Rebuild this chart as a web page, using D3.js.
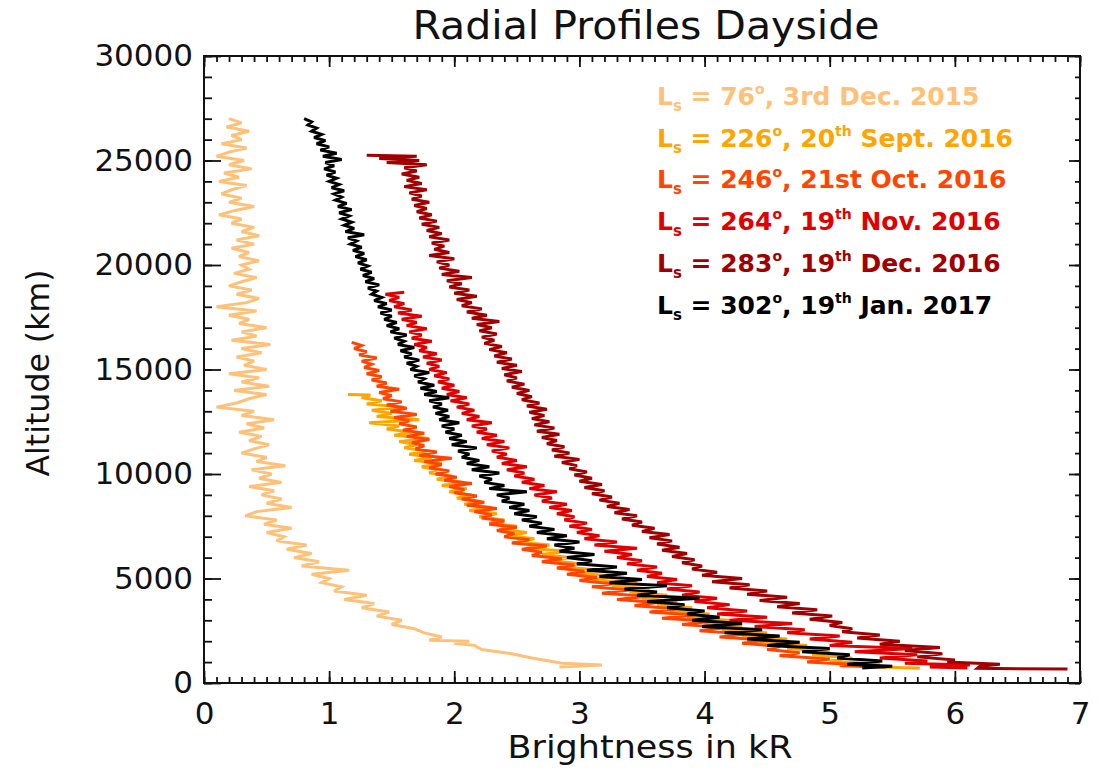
<!DOCTYPE html>
<html><head><meta charset="utf-8">
<script src="https://cdn.jsdelivr.net/npm/d3@7"></script>
<style>body{margin:0;background:#fff}svg{display:block}</style>
</head><body>
<svg id="chart" width="1099" height="772"></svg>
<script>
// ---------- data ----------
const xTicks = [0,1,2,3,4,5,6,7];
const yTicks = [0,5000,10000,15000,20000,25000,30000];
const lsValues = [76,226,246,264,283,302];
const legendDay = ["3rd","20","21st","19","19","19"];
const legendSup = ["","th","","th","th","th"];
const legendRest = ["Dec. 2015","Sept. 2016","Oct. 2016","Nov. 2016","Dec. 2016","Jan. 2017"];
const seriesColors = ["#FFC078","#FFA500","#FF4500","#E00000","#A00000","#000000"];

// [altitude km, brightness kR]
const ls76 = [[27000,0.2],[26800,0.3],[26600,0.18],[26400,0.36],[26200,0.22],[26000,0.3],[25800,0.14],[25600,0.34],[25400,0.2],[25200,0.1],[25000,0.32],[24800,0.2],[24600,0.38],[24400,0.16],[24200,0.28],[24000,0.12],[23800,0.34],[23600,0.22],[23400,0.14],[23200,0.3],[23000,0.2],[22800,0.4],[22600,0.24],[22400,0.12],[22200,0.3],[22000,0.22],[21800,0.4],[21600,0.3],[21400,0.44],[21200,0.26],[21000,0.4],[20800,0.22],[20600,0.36],[20400,0.28],[20200,0.44],[20000,0.3],[19800,0.36],[19600,0.24],[19400,0.42],[19200,0.3],[19000,0.2],[18800,0.38],[18600,0.26],[18400,0.44],[18200,0.34],[18000,0.1],[17800,0.42],[17600,0.2],[17400,0.36],[17200,0.28],[17000,0.5],[16800,0.3],[16600,0.42],[16400,0.22],[16200,0.53],[16000,0.3],[15800,0.46],[15600,0.26],[15400,0.4],[15200,0.32],[15000,0.5],[14800,0.2],[14600,0.44],[14400,0.3],[14200,0.52],[14000,0.24],[13800,0.5],[13600,0.36],[13400,0.26],[13200,0.1],[13000,0.4],[12800,0.3],[12600,0.56],[12400,0.34],[12200,0.48],[12000,0.28],[11800,0.46],[11600,0.36],[11400,0.52],[11200,0.4],[11000,0.3],[10800,0.5],[10600,0.42],[10400,0.65],[10200,0.38],[10000,0.54],[9800,0.44],[9600,0.62],[9400,0.36],[9200,0.56],[9000,0.46],[8800,0.62],[8600,0.5],[8400,0.7],[8200,0.42],[8000,0.33],[7800,0.58],[7600,0.48],[7400,0.7],[7200,0.5],[7000,0.64],[6800,0.58],[6600,0.82],[6400,0.66],[6200,0.86],[6000,0.72],[5800,0.92],[5600,0.78],[5400,1.16],[5200,0.86],[5000,1.0],[4800,0.94],[4600,1.1],[4400,1.04],[4200,1.3],[4000,1.12],[3800,1.36],[3600,1.26],[3400,1.48],[3200,1.38],[3000,1.58],[2800,1.5],[2600,1.68],[2400,1.76],[2200,1.9],[2050,1.8],[2000,2.12],[1900,2.0],[1800,2.16],[1600,2.22],[1400,2.46],[1200,2.62],[1050,2.76],[950,2.86],[860,3.18],[760,2.84]];

const ls226 = [[13800,1.15],[13780,1.33],[13650,1.26],[13500,1.42],[13350,1.3],[13200,1.6],[13050,1.34],[12900,1.5],[12750,1.38],[12600,1.72],[12450,1.32],[12300,1.56],[12150,1.46],[12000,1.66],[11850,1.52],[11700,1.8],[11550,1.56],[11400,1.7],[11250,1.6],[11100,1.78],[10950,1.64],[10800,1.82],[10650,1.68],[10500,1.9],[10350,1.74],[10200,1.86],[10050,1.8],[9900,1.98],[9750,1.86],[9600,2.06],[9450,1.9],[9300,2.1],[9150,1.96],[9000,2.14],[8850,2.02],[8700,2.2],[8550,2.08],[8400,2.3],[8250,2.12],[8100,2.34],[7950,2.2],[7800,2.4],[7650,2.28],[7500,2.5],[7350,2.36],[7200,2.58],[7050,2.44],[6900,2.64],[6750,2.5],[6600,2.76],[6450,2.58],[6300,2.9],[6150,2.7],[6000,2.92],[5850,2.8],[5700,3.02],[5550,2.9],[5400,3.16],[5250,3.0],[5100,3.3],[4950,3.1],[4800,3.46],[4650,3.26],[4500,3.56],[4350,3.4],[4200,3.7],[4050,3.5],[3900,3.78],[3750,3.62],[3600,3.9],[3450,3.72],[3300,4.04],[3150,3.86],[3000,4.2],[2850,4.0],[2700,4.3],[2550,4.14],[2400,4.5],[2250,4.3],[2100,4.66],[1950,4.44],[1800,4.82],[1650,4.66],[1500,5.0],[1350,4.86],[1200,5.18],[1050,5.0],[900,5.4],[800,5.24],[700,5.72]];

const ls246 = [[16300,1.18],[16150,1.26],[16000,1.2],[15850,1.3],[15700,1.24],[15550,1.38],[15400,1.26],[15250,1.34],[15100,1.28],[14950,1.4],[14800,1.3],[14650,1.42],[14500,1.34],[14350,1.46],[14200,1.38],[14050,1.56],[13900,1.4],[13750,1.5],[13600,1.43],[13450,1.58],[13300,1.46],[13150,1.62],[13000,1.49],[12850,1.7],[12700,1.52],[12550,1.64],[12400,1.56],[12250,1.7],[12100,1.59],[11950,1.76],[11800,1.62],[11650,1.8],[11500,1.66],[11350,1.76],[11200,1.69],[11050,1.86],[10900,1.72],[10750,1.98],[10600,1.76],[10450,1.9],[10300,1.8],[10150,1.96],[10000,1.85],[9850,2.02],[9700,1.92],[9550,2.14],[9400,1.96],[9250,2.08],[9100,2.0],[8950,2.18],[8800,2.06],[8650,2.24],[8500,2.1],[8350,2.34],[8200,2.16],[8050,2.3],[7900,2.22],[7750,2.4],[7600,2.28],[7450,2.5],[7300,2.34],[7150,2.48],[7000,2.4],[6850,2.6],[6700,2.46],[6550,2.74],[6400,2.54],[6250,2.7],[6100,2.62],[5950,2.86],[5800,2.7],[5650,2.96],[5500,2.82],[5350,3.04],[5200,2.9],[5050,3.14],[4900,3.0],[4750,3.26],[4600,3.1],[4450,3.4],[4300,3.18],[4150,3.54],[4000,3.3],[3850,3.62],[3700,3.44],[3550,3.78],[3400,3.56],[3250,3.92],[3100,3.66],[2950,4.06],[2800,3.82],[2650,4.18],[2500,3.96],[2350,4.34],[2200,4.12],[2050,4.5],[1900,4.3],[1750,4.6],[1600,4.5],[1450,4.76],[1300,4.6],[1150,5.0],[1000,4.82],[900,5.16],[820,5.08],[760,5.45]];

const ls264 = [[18700,1.6],[18600,1.45],[18450,1.56],[18300,1.48],[18150,1.6],[18000,1.52],[17850,1.66],[17700,1.55],[17550,1.74],[17400,1.58],[17250,1.7],[17100,1.62],[16950,1.78],[16800,1.64],[16650,1.74],[16500,1.66],[16350,1.82],[16200,1.68],[16050,1.78],[15900,1.72],[15750,1.86],[15600,1.75],[15450,1.9],[15300,1.78],[15150,1.88],[15000,1.8],[14850,1.94],[14700,1.84],[14550,1.96],[14400,1.87],[14250,2.0],[14100,1.9],[13950,2.04],[13800,1.94],[13650,2.1],[13500,1.97],[13350,2.12],[13200,2.02],[13050,2.16],[12900,2.06],[12750,2.2],[12600,2.1],[12450,2.3],[12300,2.14],[12150,2.26],[12000,2.18],[11850,2.34],[11700,2.22],[11550,2.4],[11400,2.26],[11250,2.44],[11100,2.3],[10950,2.42],[10800,2.34],[10650,2.5],[10500,2.38],[10350,2.58],[10200,2.42],[10050,2.56],[9900,2.48],[9750,2.64],[9600,2.54],[9450,2.72],[9300,2.6],[9150,2.82],[9000,2.64],[8850,2.78],[8700,2.7],[8550,2.9],[8400,2.76],[8250,2.94],[8100,2.82],[7950,2.96],[7800,2.88],[7650,3.06],[7500,2.92],[7350,3.1],[7200,2.98],[7050,3.16],[6900,3.04],[6750,3.3],[6600,3.12],[6450,3.46],[6300,3.2],[6150,3.42],[6000,3.3],[5850,3.5],[5700,3.38],[5550,3.62],[5400,3.46],[5250,3.66],[5100,3.54],[4950,3.78],[4800,3.62],[4650,3.9],[4500,3.7],[4350,3.96],[4200,3.82],[4050,4.1],[3900,3.92],[3750,4.2],[3600,4.02],[3450,4.34],[3300,4.1],[3150,4.5],[3000,4.2],[2850,4.7],[2700,4.4],[2550,4.8],[2400,4.66],[2250,5.08],[2100,4.84],[1950,5.18],[1800,5.0],[1650,5.66],[1500,5.2],[1350,5.7],[1200,5.4],[1050,5.78],[950,5.6],[860,6.12],[760,5.8],[720,6.1]];

const ls283 = [[25250,1.3],[25200,1.7],[25100,1.4],[25000,1.72],[24900,1.46],[24800,1.78],[24650,1.6],[24500,1.7],[24350,1.58],[24200,1.72],[24050,1.62],[23900,1.74],[23750,1.6],[23600,1.78],[23450,1.64],[23300,1.74],[23150,1.66],[23000,1.8],[22850,1.68],[22700,1.78],[22550,1.7],[22400,1.82],[22250,1.72],[22100,1.86],[21950,1.74],[21800,1.88],[21650,1.78],[21500,1.9],[21350,1.8],[21200,1.96],[21050,1.82],[20900,1.92],[20750,1.84],[20600,1.96],[20450,1.8],[20300,2.0],[20150,1.86],[20000,1.96],[19850,1.88],[19700,2.04],[19550,1.9],[19400,2.14],[19250,1.94],[19100,2.06],[18950,1.96],[18800,2.12],[18650,2.0],[18500,2.18],[18350,2.02],[18200,2.14],[18050,2.06],[17900,2.22],[17750,2.1],[17600,2.26],[17450,2.14],[17300,2.36],[17150,2.18],[17000,2.3],[16850,2.2],[16700,2.34],[16550,2.22],[16400,2.32],[16250,2.24],[16100,2.38],[15950,2.28],[15800,2.42],[15650,2.32],[15500,2.46],[15350,2.34],[15200,2.5],[15050,2.38],[14900,2.54],[14750,2.4],[14600,2.5],[14450,2.42],[14300,2.56],[14150,2.46],[14000,2.6],[13850,2.5],[13700,2.62],[13550,2.54],[13400,2.68],[13250,2.58],[13100,2.74],[12950,2.6],[12800,2.72],[12650,2.62],[12500,2.76],[12350,2.64],[12200,2.8],[12050,2.66],[11900,2.84],[11750,2.7],[11600,2.82],[11450,2.74],[11300,2.88],[11150,2.78],[11000,2.92],[10850,2.8],[10700,3.0],[10550,2.86],[10400,2.98],[10250,2.92],[10100,3.06],[9950,2.96],[9800,3.1],[9650,3.0],[9500,3.18],[9350,3.04],[9200,3.2],[9050,3.1],[8900,3.26],[8750,3.16],[8600,3.32],[8450,3.22],[8300,3.4],[8150,3.28],[8000,3.46],[7850,3.34],[7700,3.5],[7550,3.42],[7400,3.6],[7250,3.5],[7100,3.72],[6950,3.56],[6800,3.74],[6650,3.62],[6500,3.8],[6350,3.66],[6200,3.86],[6050,3.74],[5900,3.92],[5750,3.82],[5600,3.98],[5450,3.9],[5300,4.1],[5150,3.98],[5000,4.3],[4850,4.06],[4700,4.36],[4550,4.2],[4400,4.5],[4250,4.34],[4100,4.66],[3950,4.44],[3800,4.76],[3650,4.58],[3500,4.9],[3350,4.7],[3200,5.02],[3050,4.84],[2900,5.1],[2750,5.0],[2600,5.18],[2450,5.1],[2300,5.4],[2150,5.22],[2000,5.56],[1850,5.4],[1700,5.88],[1550,5.6],[1400,5.9],[1250,5.7],[1100,6.0],[1000,5.94],[900,6.36],[800,6.2],[700,6.18],[670,6.9]];

const ls302 = [[27000,0.80],[26850,0.86],[26700,0.83],[26550,0.9],[26400,0.86],[26250,0.94],[26100,0.88],[25950,0.97],[25800,0.9],[25650,1.0],[25500,0.93],[25350,1.06],[25200,0.95],[25050,1.1],[24900,0.97],[24750,1.04],[24600,0.96],[24450,1.05],[24300,0.98],[24150,1.06],[24000,1.0],[23850,1.08],[23700,1.02],[23550,1.12],[23400,1.04],[23250,1.1],[23100,1.05],[22950,1.14],[22800,1.07],[22650,1.18],[22500,1.08],[22350,1.16],[22200,1.1],[22050,1.18],[21900,1.12],[21750,1.2],[21600,1.13],[21450,1.28],[21300,1.15],[21150,1.22],[21000,1.17],[20850,1.26],[20700,1.19],[20550,1.28],[20400,1.21],[20250,1.3],[20100,1.23],[19950,1.31],[19800,1.25],[19650,1.34],[19500,1.27],[19350,1.36],[19200,1.29],[19050,1.4],[18900,1.31],[18750,1.38],[18600,1.34],[18450,1.42],[18300,1.36],[18150,1.46],[18000,1.39],[17850,1.5],[17700,1.41],[17550,1.5],[17400,1.44],[17250,1.54],[17100,1.46],[16950,1.56],[16800,1.49],[16650,1.62],[16500,1.52],[16350,1.6],[16200,1.55],[16050,1.68],[15900,1.57],[15750,1.66],[15600,1.6],[15450,1.72],[15300,1.62],[15150,1.7],[15000,1.65],[14850,1.8],[14700,1.68],[14550,1.76],[14400,1.71],[14250,1.84],[14100,1.73],[13950,1.86],[13800,1.76],[13650,1.96],[13500,1.8],[13350,1.9],[13200,1.83],[13050,1.95],[12900,1.85],[12750,1.96],[12600,1.88],[12450,2.04],[12300,1.9],[12150,2.0],[12000,1.93],[11850,2.06],[11700,1.96],[11550,2.1],[11400,1.98],[11250,2.18],[11100,2.03],[10950,2.12],[10800,2.06],[10650,2.2],[10500,2.1],[10350,2.28],[10200,2.14],[10050,2.36],[9900,2.2],[9750,2.3],[9600,2.24],[9450,2.4],[9300,2.28],[9150,2.58],[9000,2.34],[8850,2.44],[8700,2.38],[8550,2.56],[8400,2.44],[8250,2.6],[8100,2.48],[7950,2.66],[7800,2.54],[7650,2.7],[7500,2.6],[7350,2.8],[7200,2.66],[7050,2.9],[6900,2.74],[6750,3.0],[6600,2.8],[6450,2.96],[6300,2.84],[6150,3.12],[6000,2.9],[5850,3.1],[5700,2.98],[5550,3.3],[5400,3.06],[5250,3.38],[5100,3.16],[4950,3.5],[4800,3.24],[4650,3.7],[4500,3.36],[4350,3.62],[4200,3.46],[4050,3.96],[3900,3.54],[3750,3.84],[3600,3.7],[3450,4.0],[3300,3.86],[3150,4.12],[3000,3.9],[2850,4.3],[2700,3.98],[2550,4.46],[2400,4.16],[2250,4.6],[2100,4.34],[1950,4.76],[1800,4.5],[1650,5.0],[1500,4.78],[1350,5.16],[1200,5.06],[1050,5.42],[900,5.14],[800,5.5],[720,5.26]];

const allSeries = [ls76, ls226, ls246, ls264, ls283, ls302];

// ---------- layout ----------
const W = 1099, H = 772;
const plot = {left: 204, right: 1080, top: 56, bottom: 683};
const font = "'DejaVu Sans', sans-serif";
const svg = d3.select("#chart");
svg.append("rect").attr("width", W).attr("height", H).attr("fill", "#fff");

const x = d3.scaleLinear().domain([0, 7]).range([plot.left, plot.right]);
const y = d3.scaleLinear().domain([0, 30000]).range([plot.bottom, plot.top]);

svg.append("clipPath").attr("id", "clip").append("rect")
  .attr("x", plot.left).attr("y", plot.top)
  .attr("width", plot.right - plot.left).attr("height", plot.bottom - plot.top);

const line = d3.line().x(d => x(d[1])).y(d => y(d[0]));
const gLines = svg.append("g").attr("clip-path", "url(#clip)");
allSeries.forEach((s, i) => {
  gLines.append("path").datum(s)
    .attr("d", line)
    .attr("fill", "none")
    .attr("stroke", seriesColors[i])
    .attr("stroke-width", 3)
    .attr("stroke-linejoin", "miter")
    .attr("stroke-miterlimit", 3);
});

// ---------- axes ----------
const xMinor = d3.range(0, 7.001, 0.1).map(v => +v.toFixed(1));
const yMinor = d3.range(0, 30001, 1000);
function styleAxis(g) {
  g.select(".domain").remove();
  g.selectAll("line").attr("stroke", "#111").attr("stroke-width", 1.8);
  g.selectAll("text").attr("font-family", font).attr("font-size", 31).attr("fill", "#111");
}
// bottom
svg.append("g").attr("transform", `translate(0,${plot.bottom})`)
  .call(d3.axisBottom(x).tickValues(xMinor).tickSize(-6).tickFormat("")).call(styleAxis);
svg.append("g").attr("transform", `translate(0,${plot.bottom})`)
  .call(d3.axisBottom(x).tickValues(xTicks).tickSize(-12).tickPadding(19).tickFormat(d3.format("d"))).call(styleAxis);
// top
svg.append("g").attr("transform", `translate(0,${plot.top})`)
  .call(d3.axisTop(x).tickValues(xMinor).tickSize(-6).tickFormat("")).call(styleAxis);
svg.append("g").attr("transform", `translate(0,${plot.top})`)
  .call(d3.axisTop(x).tickValues(xTicks).tickSize(-11).tickFormat("")).call(styleAxis);
// left
svg.append("g").attr("transform", `translate(${plot.left},0)`)
  .call(d3.axisLeft(y).tickValues(yMinor).tickSize(-8).tickFormat("")).call(styleAxis);
svg.append("g").attr("transform", `translate(${plot.left},0)`)
  .call(d3.axisLeft(y).tickValues(yTicks).tickSize(-17).tickPadding(11).tickFormat(d3.format("d"))).call(styleAxis);
// right
svg.append("g").attr("transform", `translate(${plot.right},0)`)
  .call(d3.axisRight(y).tickValues(yMinor).tickSize(-5).tickFormat("")).call(styleAxis);
svg.append("g").attr("transform", `translate(${plot.right},0)`)
  .call(d3.axisRight(y).tickValues(yTicks).tickSize(-11).tickFormat("")).call(styleAxis);

// frame
svg.append("rect")
  .attr("x", plot.left).attr("y", plot.top)
  .attr("width", plot.right - plot.left).attr("height", plot.bottom - plot.top)
  .attr("fill", "none").attr("stroke", "#111").attr("stroke-width", 2);

// ---------- titles ----------
svg.append("text").attr("x", 646).attr("y", 39)
  .attr("text-anchor", "middle").attr("font-family", font).attr("font-size", 39)
  .attr("textLength", 467).attr("lengthAdjust", "spacingAndGlyphs")
  .attr("fill", "#111").text("Radial Profiles Dayside");
svg.append("text").attr("x", 650).attr("y", 758)
  .attr("text-anchor", "middle").attr("font-family", font).attr("font-size", 32)
  .attr("textLength", 285).attr("lengthAdjust", "spacingAndGlyphs")
  .attr("fill", "#111").text("Brightness in kR");
svg.append("text").attr("transform", "translate(49,373) rotate(-90)")
  .attr("text-anchor", "middle").attr("font-family", font).attr("font-size", 32)
  .attr("textLength", 207).attr("lengthAdjust", "spacingAndGlyphs")
  .attr("fill", "#111").text("Altitude (km)");

// ---------- legend ----------
const legend = svg.append("g").attr("font-family", font).attr("font-weight", "bold").attr("font-size", 25);
lsValues.forEach((v, i) => {
  const t = legend.append("text").attr("x", 657).attr("y", 105 + i * 41.7).attr("fill", seriesColors[i]);
  t.append("tspan").text("L");
  t.append("tspan").attr("font-size", 15).attr("dy", 6).text("s");
  t.append("tspan").attr("dy", -6).text(" = " + v);
  t.append("tspan").attr("font-size", 14).attr("dy", -11).text("o");
  t.append("tspan").attr("dy", 11).text(", " + legendDay[i]);
  if (legendSup[i]) {
    t.append("tspan").attr("font-size", 14).attr("dy", -11).text(legendSup[i]);
    t.append("tspan").attr("dy", 11).text(" " + legendRest[i]);
  } else {
    t.append("tspan").text(" " + legendRest[i]);
  }
});
</script>
</body></html>
